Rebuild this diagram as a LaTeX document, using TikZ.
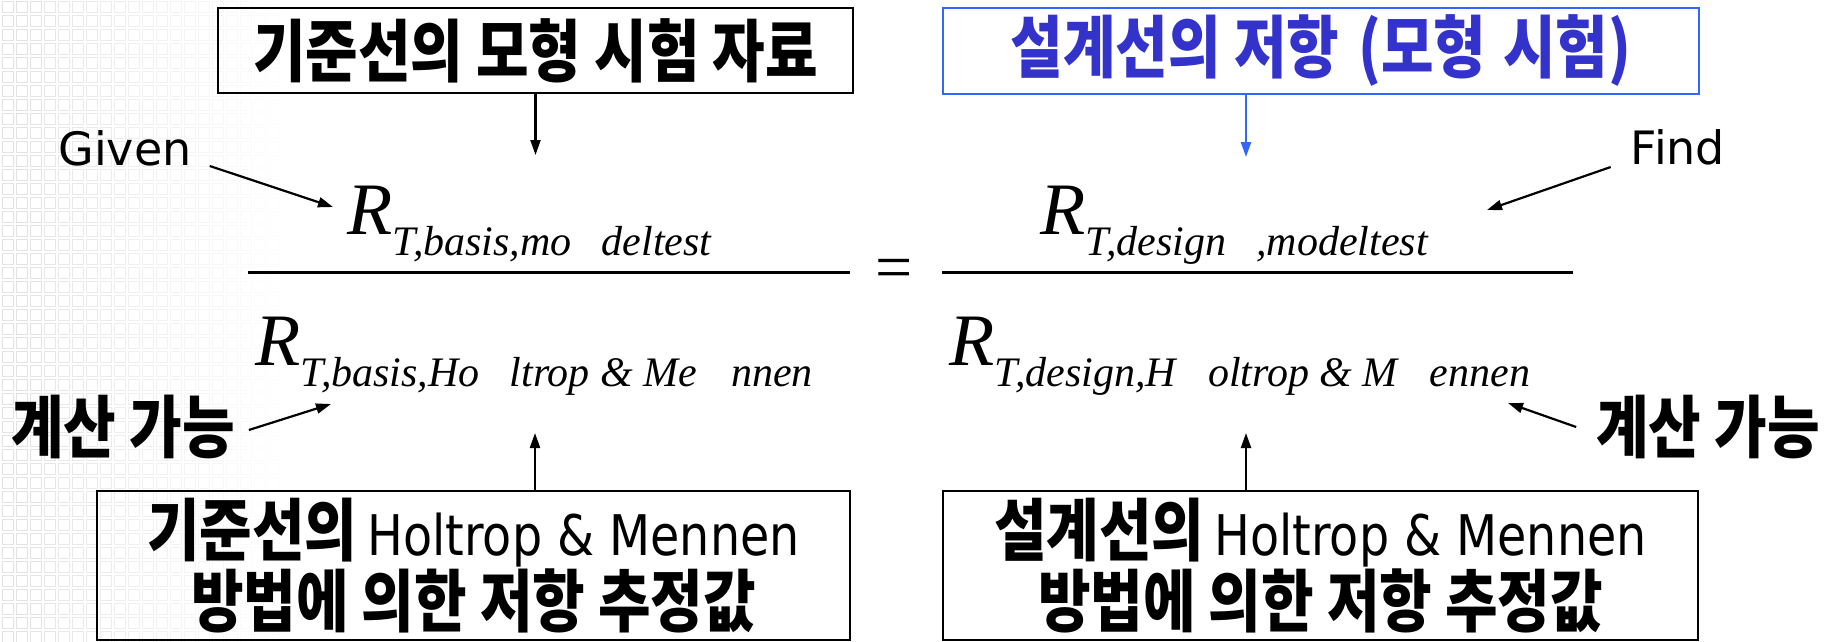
\documentclass[tikz,border=0pt]{standalone}
\usepackage{fontspec}
\usetikzlibrary{arrows.meta}
\setmainfont{DejaVu Sans}
\newfontfamily\kor[FakeStretch=0.84]{Noto Sans CJK KR}
\newfontfamily\lat[FakeStretch=0.85]{DejaVu Sans}
\newfontfamily\tim{Liberation Serif}
\definecolor{bluebox}{HTML}{3366FF}
\definecolor{bluetext}{HTML}{3333CC}
\begin{document}
\begin{tikzpicture}[x=1pt,y=-1pt,
  box/.style={draw=black, line width=2.4pt, inner sep=0pt, align=center},
  kfont/.style={font=\kor\bfseries\fontsize{68}{68}\selectfont},
  arr/.style={line width=2.2pt, -{Triangle[length=15pt,width=10pt]}},
  mR/.style={inner sep=0pt, anchor=base west, font=\tim\itshape\fontsize{74}{74}\selectfont},
  mS/.style={inner sep=0pt, anchor=base west, font=\tim\itshape\fontsize{42}{42}\selectfont},
  lbl/.style={inner sep=0pt, font=\fontsize{46}{46}\selectfont}]
\useasboundingbox (0,0) rectangle (1833,641);
\fill[white] (0,0) rectangle (1833,641);
% faint background grid
\foreach \i in {0,...,19}{
  \foreach \j in {0,...,45}{
    \pgfmathsetmacro\op{0.5*(1-\i/20)}
    \draw[gray!45, opacity=\op, line width=0.8pt] (\i*14+2,\j*14+1) rectangle ++(11,11);
  }
}
% boxes
\node[box, kfont, minimum width=635pt, minimum height=85pt] (tl) at (535.5,50.5) {기준선의 모형 시험 자료};
\node[box, draw=bluebox, kfont, text=bluetext, minimum width=756pt, minimum height=86pt] (tr) at (1321,51) {설계선의 저항\hspace{6pt} (모형\hspace{4pt} 시험)};
\node[box, minimum width=753pt, minimum height=149pt] (bl) at (473.5,565.5)
  {\fontsize{68}{64}\selectfont{\kor\bfseries 기준선의}\hspace{10pt}{\lat\fontsize{56}{64}\selectfont Holtrop \& Mennen}\\
   \fontsize{68}{64}\selectfont\kor\bfseries 방법에 의한 저항 추정값};
\node[box, minimum width=755pt, minimum height=149pt] (br) at (1320.5,565.5)
  {\fontsize{68}{64}\selectfont{\kor\bfseries 설계선의}\hspace{10pt}{\lat\fontsize{56}{64}\selectfont Holtrop \& Mennen}\\
   \fontsize{68}{64}\selectfont\kor\bfseries 방법에 의한 저항 추정값};
% labels
\node[lbl] (given) at (125,148) {Given};
\node[lbl] (find) at (1678,147) {Find};
\node[kfont, inner sep=0pt] (calcL) at (123,427) {계산 가능};
\node[kfont, inner sep=0pt] (calcR) at (1708,427) {계산 가능};
% fractions
\node[mR] (nlR) at (347,234) {R};
\node[mS] (nlS) at ([yshift=-21pt]nlR.base east) {T,basis,mo\hspace{30pt}deltest};
\node[mR] (nrR) at (1040,234) {R};
\node[mS] (nrS) at ([yshift=-21pt]nrR.base east) {T,design\hspace{30pt},modeltest};
\node[mR] (dlR) at (255,365) {R};
\node[mS] (dlS) at ([yshift=-21pt]dlR.base east) {T,basis,Ho\hspace{30pt}ltrop \& Me\hspace{34pt}nnen};
\node[mR] (drR) at (949,365) {R};
\node[mS] (drS) at ([yshift=-21pt]drR.base east) {T,design,H\hspace{32pt}oltrop \& M\hspace{32pt}ennen};
\draw[line width=3pt] (248,272) -- (850,272);
\draw[line width=3pt] (942,272) -- (1573,272);
\node[inner sep=0pt, anchor=base, font=\tim\fontsize{66}{66}\selectfont] (eq) at (894,289.5) {=};
% connectors
\coordinate (tlE) at (535.5,155);
\coordinate (trE) at (1246,157);
\coordinate (blE) at (535,433);
\coordinate (brE) at (1246,433);
\coordinate (givenE) at (333,207);
\coordinate (findE) at (1487,210);
\coordinate (calcLE) at (331,404);
\coordinate (calcRE) at (1508,403);
\draw[arr] (tl.south) -- (tlE);
\draw[arr, draw=bluebox, fill=bluebox] (tr.south -| trE) -- (trE);
\draw[arr] (bl.north -| blE) -- (blE);
\draw[arr] (br.north -| brE) -- (brE);
\draw[arr] ([xshift=18pt,yshift=0pt]given.south east) -- (givenE);
\draw[arr] ([xshift=-20pt,yshift=-2pt]find.south west) -- (findE);
\draw[arr] ([xshift=14pt,yshift=-3pt]calcL.east) -- (calcLE);
\draw[arr] ([xshift=-20pt]calcR.west) -- (calcRE);
\end{tikzpicture}
\end{document}
